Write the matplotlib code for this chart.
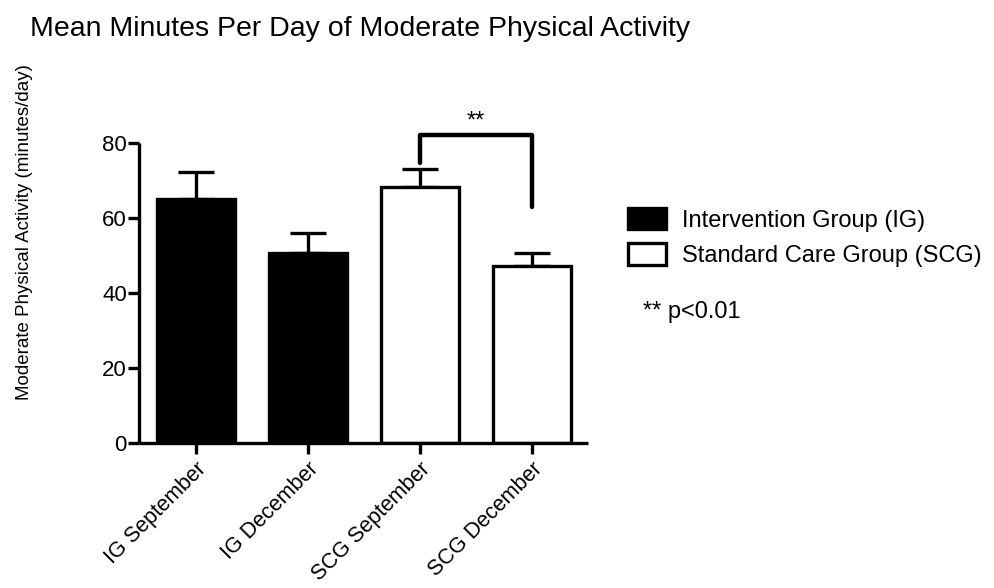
import matplotlib
matplotlib.use("Agg")
import matplotlib.pyplot as plt
import matplotlib.transforms as mtransforms
from matplotlib.patches import Patch

plt.rcParams['font.family'] = ['Liberation Sans', 'DejaVu Sans']

labels = ["IG September", "IG December", "SCG September", "SCG December"]
means = [65.3, 50.7, 68.3, 47.3]
sem = [7.1, 5.5, 4.8, 3.4]
groups = ["IG", "IG", "SCG", "SCG"]
legend_names = ["Intervention Group (IG)", "Standard Care Group (SCG)"]

# bracket between SCG September and SCG December
bracket_top = 82.2
bracket_legs = [74.7, 63.1]

lw = 2.4
fig = plt.figure(figsize=(9.95, 5.88), dpi=100)
ax = fig.add_axes([0.14, 0.246, 0.451, 0.51])

x = list(range(len(labels)))
colors = ["black" if g == "IG" else "white" for g in groups]
ax.bar(x, means, width=0.7, color=colors, edgecolor="black", linewidth=lw, zorder=2)
ax.errorbar(x, means, yerr=[[0]*4, sem], fmt="none", ecolor="black",
            elinewidth=lw, capsize=13, capthick=lw, zorder=1)

ax.plot([2, 2, 3, 3], [bracket_legs[0], bracket_top, bracket_top, bracket_legs[1]],
        color="black", lw=3.2, clip_on=False, solid_capstyle="round")
ax.text(2.5, bracket_top + 0.8, "**", ha="center", va="bottom", fontsize=17)

ax.set_xlim(-0.506, 3.5)
ax.set_ylim(0, 80)
ax.set_yticks([0, 20, 40, 60, 80])
ax.set_xticks(x)
ax.set_xticklabels(labels, rotation=45, ha="right", rotation_mode="anchor", fontsize=15.5)
shift = mtransforms.ScaledTranslation(-5 / 72, 0, fig.dpi_scale_trans)
for t in ax.get_xticklabels():
    t.set_transform(t.get_transform() + shift)
ax.tick_params(axis="y", labelsize=16, width=lw, length=8, pad=1)
ax.tick_params(axis="x", width=lw, length=8, pad=3)
for s in ["top", "right"]:
    ax.spines[s].set_visible(False)
for s in ["left", "bottom"]:
    ax.spines[s].set_linewidth(lw)
    ax.spines[s].set_capstyle("butt")

ax.set_ylabel("Moderate Physical Activity (minutes/day)", fontsize=13.5)
ax.yaxis.set_label_coords(-0.237, 0.704)

fig.text(0.03, 0.951, "Mean Minutes Per Day of Moderate Physical Activity",
         fontsize=20.5, ha="left", va="center")

handles = [Patch(facecolor="black", edgecolor="black", linewidth=lw),
           Patch(facecolor="white", edgecolor="black", linewidth=lw)]
fig.legend(handles, legend_names, loc="upper left", bbox_to_anchor=(0.631, 0.647),
           frameon=False, fontsize=17, handlelength=1.6, handleheight=1.05,
           handletextpad=0.7, labelspacing=0.5, borderaxespad=0, borderpad=0)
fig.text(0.646, 0.47, "** p<0.01", fontsize=17, ha="left", va="center")

fig.savefig("out.png", dpi=100)
